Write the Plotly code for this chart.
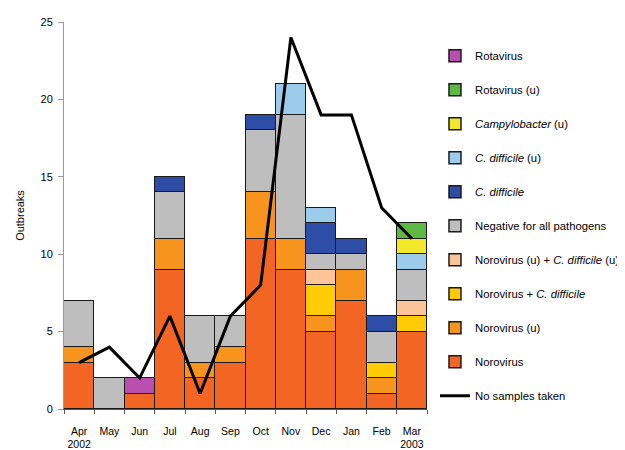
import plotly.graph_objects as go

months = ["Apr<br>2002", "May", "Jun", "Jul", "Aug", "Sep", "Oct", "Nov", "Dec", "Jan", "Feb", "Mar<br>2003"]

norovirus        = [3, 0, 1, 9, 2, 3, 11, 9, 5, 7, 1, 5]
norovirus_u      = [1, 0, 0, 2, 1, 1, 3, 2, 1, 2, 1, 0]
noro_cdiff       = [0, 0, 0, 0, 0, 0, 0, 0, 2, 0, 1, 1]
noro_u_cdiff_u   = [0, 0, 0, 0, 0, 0, 0, 0, 1, 0, 0, 1]
negative         = [3, 2, 0, 3, 3, 2, 4, 8, 1, 1, 2, 2]
cdiff            = [0, 0, 0, 1, 0, 0, 1, 0, 2, 1, 1, 0]
cdiff_u          = [0, 0, 0, 0, 0, 0, 0, 2, 1, 0, 0, 1]
campylobacter_u  = [0, 0, 0, 0, 0, 0, 0, 0, 0, 0, 0, 1]
rotavirus_u      = [0, 0, 0, 0, 0, 0, 0, 0, 0, 0, 0, 1]
rotavirus        = [0, 0, 1, 0, 0, 0, 0, 0, 0, 0, 0, 0]
no_samples       = [3, 4, 2, 6, 1, 6, 8, 24, 19, 19, 13, 11]

series = [
    ("Norovirus", norovirus, "#F26522"),
    ("Norovirus (u)", norovirus_u, "#F7941D"),
    ("Norovirus + <i>C. difficile</i>", noro_cdiff, "#FFCB05"),
    ("Norovirus (u) + <i>C. difficile</i> (u)", noro_u_cdiff_u, "#FBC597"),
    ("Negative for all pathogens", negative, "#BEBEBE"),
    ("<i>C. difficile</i>", cdiff, "#2E4DA6"),
    ("<i>C. difficile</i> (u)", cdiff_u, "#9DCBEB"),
    ("<i>Campylobacter</i> (u)", campylobacter_u, "#F3E82A"),
    ("Rotavirus (u)", rotavirus_u, "#5DB846"),
    ("Rotavirus", rotavirus, "#B94FAE"),
]

fig = go.Figure()

fig.add_trace(go.Scatter(
    x=months, y=no_samples, mode="lines", name="No samples taken",
    line=dict(color="black", width=3), legendgroup="line", legendrank=100,
))

n = len(series)
for i, (name, vals, color) in enumerate(series):
    fig.add_trace(go.Bar(
        x=months, y=vals, name=name, legendgroup=f"g{i}", legendrank=n - i,
        marker=dict(color=color, line=dict(color="#1a1a1a", width=1.5)),
    ))

fig.update_layout(
    barmode="stack",
    bargap=0,
    width=625, height=450,
    margin=dict(l=56, r=203, t=8, b=48),
    paper_bgcolor="white",
    plot_bgcolor="white",
    font=dict(family="Liberation Sans, Arial, sans-serif", size=11, color="black"),
    legend=dict(
        traceorder="grouped",
        x=1.022, xanchor="left", y=0.95, yanchor="top",
        tracegroupgap=15,
        font=dict(size=11.3),
        itemwidth=30,
    ),
    showlegend=True,
)

fig.update_xaxes(
    showline=True, linecolor="#555", linewidth=1,
    ticks="outside", tickson="boundaries", ticklen=4, tickcolor="#555",
    showgrid=False, tickangle=0, tickfont=dict(size=10.5),
    ticklabelstandoff=12,
)
fig.update_yaxes(
    range=[0, 25], dtick=5,
    showline=True, linecolor="#999", linewidth=1,
    ticks="outside", ticklen=5, tickcolor="#999",
    showgrid=False, zeroline=False, ticklabelstandoff=3,
    title=dict(text="Outbreaks", font=dict(size=11), standoff=13),
)

fig.write_html("out.html")
